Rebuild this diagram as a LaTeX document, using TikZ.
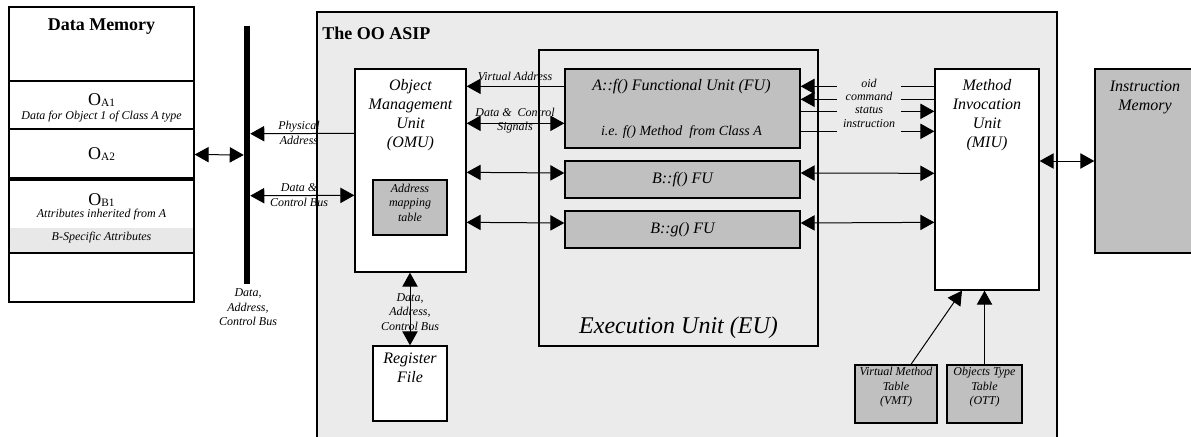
\documentclass[tikz,border=0pt]{standalone}
\usepackage{fontspec}
\setmainfont{Liberation Serif}
\usetikzlibrary{
    calc,
    positioning,
    arrows.meta
}
\definecolor{asipbg}{RGB}{235,235,235}
\definecolor{fugray}{RGB}{192,192,192}
\definecolor{bspec}{RGB}{232,232,232}
\newcommand\ftitle{\fontsize{13.5}{16}\selectfont\bfseries}
\newcommand\fobj{\fontsize{13.5}{16}\selectfont}
\newcommand\funit{\fontsize{12}{14.25}\selectfont\itshape}
\newcommand\fsub{\fontsize{10.5}{12.5}\selectfont\itshape}
\newcommand\fsmall{\fontsize{9}{10.9}\selectfont\itshape}
\newcommand\feu{\fontsize{18}{21}\selectfont\itshape}
\newcommand\objname[1]{O\raisebox{-1pt}{\fontsize{8.5}{9}\selectfont #1}}

\begin{document}
\begin{tikzpicture}[x=0.75pt,y=-0.75pt,
    sz/.style 2 args={minimum width=#1*0.75pt,minimum height=#2*0.75pt},
    box/.style={draw,line width=1pt,inner sep=0pt},
    gbox/.style={box,fill=fugray},
    row/.style={draw,line width=2pt,inner sep=0pt},
    txt/.style={inner sep=0pt,align=center},
    arr/.style={-{Triangle[length=10.5pt,width=11.5pt]},line width=0.75pt},
    dblarr/.style={{Triangle[length=10.5pt,width=11.5pt]}-{Triangle[length=10.5pt,width=11.5pt]},line width=0.75pt}]

\useasboundingbox (0,0) rectangle (1191,436);

% the ASIP frame (runs off the bottom)
\node[box,fill=asipbg,sz={740}{435}] (asip) at (687,229.5) {};
\node[txt,font=\ftitle,anchor=west] (asiptitle) at (322,33) {The OO ASIP};

% data memory
\node[box,sz={185}{295}] (dm) at (101.5,154.5) {};
\node[txt,font=\ftitle] (dmtitle) at (101.5,27) {Data Memory};
\node[inner sep=0pt,fill=bspec,sz={184}{25}] (bband) at (101.5,240.5) {};
\node[row,sz={185}{48}] (oa1) at (101.5,105) {};
\node[row,sz={185}{49}] (oa2) at (101.5,153.5) {};
\node[row,sz={185}{73}] (ob1) at (101.5,216.5) {};
\node[txt,font=\fobj] (oa1name) at (101.5,100) {\objname{A1}};
\node[txt,font=\fsmall] (oa1text) at (101.5,117) {Data for Object 1 of Class A type};
\node[txt,font=\fobj] (oa2name) at (101.5,154) {\objname{A2}};
\node[txt,font=\fobj] (ob1name) at (101.5,200) {\objname{B1}};
\node[txt,font=\fsmall] (ob1text) at (101.5,215) {Attributes inherited from A};
\node[txt,font=\fsmall] (btext) at (101.5,238) {B-Specific Attributes};

% system bus
\node[inner sep=0pt,fill=black,sz={6}{258}] (bus) at (247,155) {};
\node[txt,font=\fsmall] (buslabel) at (248,307.5) {Data,\\Address,\\Control Bus};

% OMU
\node[box,fill=white,sz={111}{203}] (omu) at (410.5,170.5) {};
\node[txt,font=\funit] (omutext) at (410.5,115.5) {Object\\Management\\Unit\\(OMU)};
\node[gbox,sz={74}{55}] (amt) at (410,207.5) {};
\node[txt,font=\fsmall] (amttext) at (410,202.5) {Address\\mapping\\table};

% register file
\node[box,fill=white,sz={74}{75}] (regf) at (410,383.5) {};
\node[txt,font=\funit] (regftext) at (410,367.5) {Register\\File};

% execution unit
\node[box,sz={279}{296}] (eu) at (678.5,198) {};
\node[txt,font=\feu] (eutext) at (678.5,328) {Execution Unit (EU)};
\node[gbox,sz={235}{79}] (afu) at (682.5,108.5) {};
\node[txt,font=\funit] (afutitle) at (681.5,87) {A::f() Functional Unit (FU)};
\node[txt,font=\fsub] (afusub) at (681.5,132) {i.e. f() Method\ \ from Class A};
\node[gbox,font=\funit,sz={235}{37}] (bf) at (682.5,179.5) {B::f() FU};
\node[gbox,font=\funit,sz={235}{37}] (bg) at (682.5,229.5) {B::g() FU};

% MIU
\node[box,fill=white,sz={104}{221}] (miu) at (987,179.5) {};
\node[txt,font=\funit] (miutext) at (987,115) {Method\\Invocation\\Unit\\(MIU)};

% tables
\node[gbox,sz={82}{58}] (vmt) at (896,394) {};
\node[txt,font=\fsmall] (vmttext) at (896,387.5) {Virtual Method\\Table\\(VMT)};
\node[gbox,sz={75}{58}] (ott) at (984.5,394) {};
\node[txt,font=\fsmall] (otttext) at (984.5,387.5) {Objects Type\\Table\\(OTT)};

% instruction memory (runs off the right side)
\node[gbox,sz={110}{184}] (im) at (1150,161) {};
\node[txt,font=\funit] (imtext) at (1145,97) {Instruction\\Memory};

% memory side
\draw[dblarr] (dm.east) -- (bus.west);
\draw[arr] ($(omu.north west)+(0,65)$) -- ($(bus.north east)+(0,108)$);
\draw[dblarr] ($(bus.north east)+(0,170)$) -- ($(omu.north west)+(0,127)$);
\node[txt,font=\fsmall] (palabel) at (299,133) {Physical\\Address};
\node[txt,font=\fsmall] (dclabel) at (299,195) {Data \&\\Control Bus};
\draw[dblarr] (omu.south -| regf.north) -- (regf.north);
\node[txt,font=\fsmall] (rflabel) at (410,312) {Data,\\Address,\\Control Bus};

% OMU <-> EU
\draw[arr] ($(afu.north west)+(0,18)$) -- ($(omu.north east)+(0,18)$);
\draw[dblarr] ($(omu.north east)+(0,55)$) -- ($(afu.north west)+(0,55)$);
\draw[dblarr] ($(omu.north east)+(0,104)$) -- ($(bf.west)+(0,-6.5)$);
\draw[dblarr] ($(omu.north east)+(0,154)$) -- ($(bg.west)+(0,-6.5)$);
\node[txt,font=\fsmall] (valabel) at (515,76) {Virtual Address};
\node[txt,font=\fsmall] (dslabel) at (515,120.5) {Data \&\ \ Control\\Signals};

% EU <-> MIU
\draw[arr] ($(afu.north east)+(36,18)$) -- ($(afu.north east)+(0,18)$);
\draw ($(miu.north west)+(0,18)$) -- ($(miu.north west)+(-33,18)$);
\draw[arr] ($(afu.north east)+(36,31)$) -- ($(afu.north east)+(0,31)$);
\draw ($(miu.north west)+(0,31)$) -- ($(miu.north west)+(-33,31)$);
\draw ($(afu.north east)+(0,43)$) -- ($(afu.north east)+(36,43)$);
\draw[arr] ($(miu.north west)+(-33,43)$) -- ($(miu.north west)+(0,43)$);
\draw ($(afu.north east)+(0,63)$) -- ($(afu.north east)+(36,63)$);
\draw[arr] ($(miu.north west)+(-33,63)$) -- ($(miu.north west)+(0,63)$);
\node[txt,font=\fsmall] (oid) at (869,83) {oid};
\node[txt,font=\fsmall] (cmd) at (869,96) {command};
\node[txt,font=\fsmall] (status) at (869,110) {status};
\node[txt,font=\fsmall] (instr) at (869,124) {instruction};
\draw[dblarr] ($(bf.east)+(0,-6.5)$) -- ($(miu.north west)+(0,105)$);
\draw[dblarr] ($(bg.east)+(0,-6.5)$) -- ($(miu.north west)+(0,154)$);

% MIU <-> instruction memory, tables -> MIU
\draw[dblarr] (miu.east |- im.west) -- (im.west);
\draw[arr] ($(vmt.north)+(15,0)$) -- ($(miu.south)+(-25,0)$);
\draw[arr] (ott.north) -- (ott.north |- miu.south);

\end{tikzpicture}
\end{document}
